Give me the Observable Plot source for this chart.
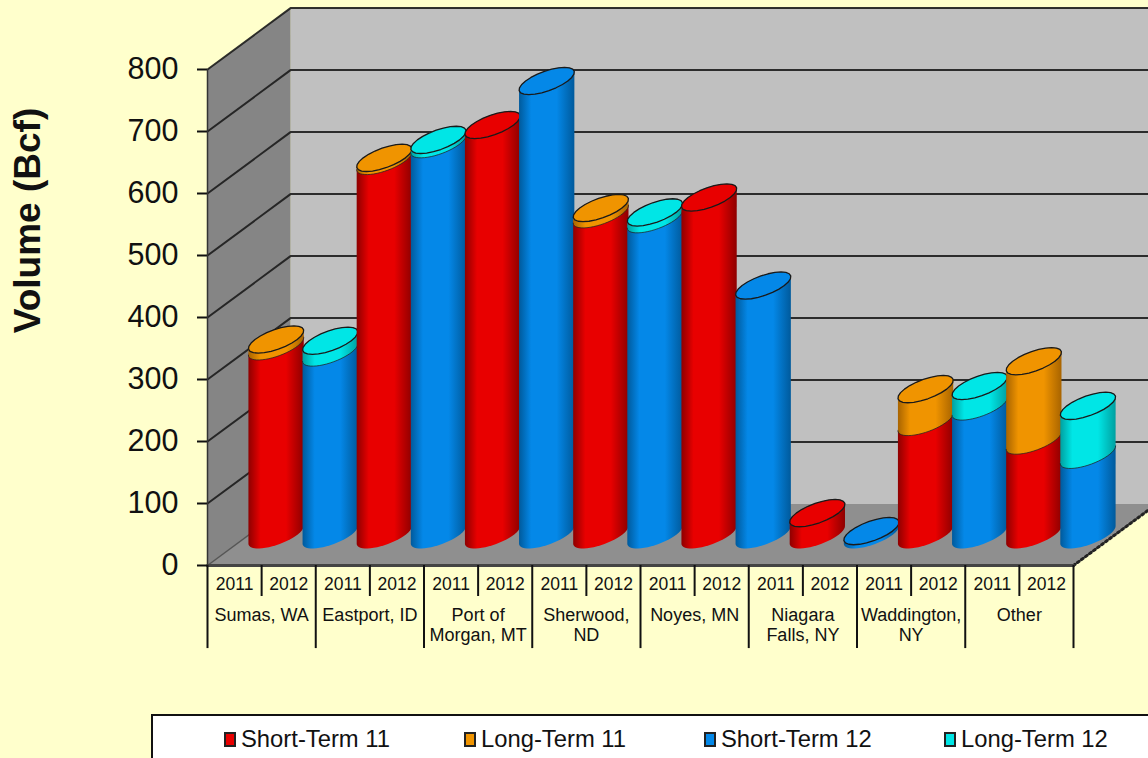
<!DOCTYPE html>
<html>
<head>
<meta charset="utf-8">
<script src="https://cdn.jsdelivr.net/npm/d3@7"></script>
<script src="https://cdn.jsdelivr.net/npm/@observablehq/plot@0.6"></script>
<style>
html,body{margin:0;padding:0;width:1148px;height:758px;overflow:hidden;background:#FFFFCC;font-family:"Liberation Sans",Arial,sans-serif}
svg{display:block}
#legend{position:absolute;left:151px;top:714px;width:1100px;height:70px;background:#fff;border:2px solid #111;box-sizing:border-box;padding-left:71px;padding-top:10px;display:flex;color:#111;font-size:23.8px}
#legend .entry{width:240px;display:flex;align-items:center;height:26px}
#legend .sw{width:8px;height:11px;border:2px solid #222;margin-right:5px;display:inline-block}
</style>
</head>
<body>
<script>
const categories = ["Sumas, WA","Eastport, ID","Port of\nMorgan, MT","Sherwood,\nND","Noyes, MN","Niagara\nFalls, NY","Waddington,\nNY","Other"];
const years = ["2011","2012"];
const shortTerm11 = [304,603,661,517,544,35,182,152];
const longTerm11  = [11,5,0,10,0,0,53,128];
const shortTerm12 = [294,630,732,509,402,6,207,129];
const longTerm12  = [19,7,0,11,0,0,33,79];
const seriesNames = ["Short-Term 11","Long-Term 11","Short-Term 12","Long-Term 12"];
const seriesColors = ["#E80000","#F09400","#0488E8","#00E6E6"];
const yTicks = d3.range(0,801,100);

// Dark ends of each cylinder's horizontal shading, by series
const edgeColors = ["#8E0000","#A86400","#005A9C","#00A0A0"];

// Depth of the 3D box, in x-slot and value units
const depthX = 1.534, depthY = 99;
// Ellipse of a cylinder cross-section, in the same units
const A = 0.39, B = 0.33, E = 22;
const t0 = Math.atan2(B, A);
const arc = (cx, level, from, to) => d3.range(0, 25).map(i => {
  const t = from + (to - from) * i / 24;
  return {x: cx + A*Math.cos(t) + B*Math.sin(t), y: level + depthY/2 + E*Math.sin(t)};
});
const front = (cx, lv) => arc(cx, lv, Math.PI + t0, 2*Math.PI + t0);
const back = (cx, lv) => arc(cx, lv, t0, Math.PI + t0);
const ring = (cx, lv) => arc(cx, lv, 0, 2*Math.PI);

// One stack per slot
const stacks = categories.flatMap((c, i) => [
  {slot: 2*i,   low: shortTerm11[i], high: longTerm11[i], s0: 0, s1: 1},
  {slot: 2*i+1, low: shortTerm12[i], high: longTerm12[i], s0: 2, s1: 3}
]);

const XY = {x: "x", y: "y"};
const sideMark = (cx, a, b, s) => Plot.line([...front(cx, a), ...back(cx, b), front(cx, a)[0]],
  {...XY, fill: `url(#cyl${s})`, stroke: "none"});

const cylinders = stacks.flatMap(d => {
  const cx = d.slot + 0.5 + depthX / 2;
  const total = d.low + d.high;
  const marks = [sideMark(cx, 0, d.low, d.s0)];
  if (d.high > 0) {
    marks.push(sideMark(cx, d.low, total, d.s1));
    marks.push(Plot.line(front(cx, d.low), {...XY, stroke: "#222", strokeWidth: 1, strokeOpacity: 0.75}));
  }
  const topSeries = d.high > 0 ? d.s1 : d.s0;
  marks.push(Plot.line(ring(cx, total), {...XY, fill: seriesColors[topSeries], stroke: "#1a1a1a", strokeWidth: 1.3}));
  return marks;
});

const xEnd = 16 + depthX;
const wallFill = (pts, fill) => Plot.line([...pts, pts[0]], {...XY, fill, stroke: "none"});
const gridRows = yTicks.flatMap(v => [
  {v, x: 0, y: v}, {v, x: depthX, y: v + depthY}, {v, x: xEnd, y: v + depthY}
]);
const yearSlots = d3.range(0, 16);
const yearRows = yearSlots.map(s => ({s: s + 0.5, label: years[s % 2]}));
const catRows = categories.map((c, i) => ({s: 2*i + 1, label: c}));

const chart = Plot.plot({
  width: 1148, height: 714,
  marginLeft: 207, marginRight: 75, marginTop: 69, marginBottom: 149,
  style: {background: "#FFFFCC", fontFamily: "'Liberation Sans', Arial, sans-serif", color: "#111", overflow: "hidden"},
  x: {type: "linear", domain: [0, 16], axis: null},
  y: {type: "linear", domain: [0, 800], axis: null},
  marks: [
    () => {
      const defs = d3.create("svg:defs");
      seriesColors.forEach((c, i) => {
        const g = defs.append("linearGradient").attr("id", `cyl${i}`).attr("x1", 0).attr("x2", 1).attr("y1", 0).attr("y2", 0);
        [[0, edgeColors[i]], [0.22, c], [0.68, c], [1, edgeColors[i]]].forEach(([o, col]) =>
          g.append("stop").attr("offset", o).attr("stop-color", col));
      });
      return defs.node();
    },
    wallFill([{x: depthX, y: depthY}, {x: xEnd, y: depthY}, {x: xEnd, y: 800 + depthY}, {x: depthX, y: 800 + depthY}], "#C0C0C0"),
    wallFill([{x: 0, y: 0}, {x: depthX, y: depthY}, {x: depthX, y: 800 + depthY}, {x: 0, y: 800}], "#858585"),
    wallFill([{x: 0, y: 0}, {x: 16, y: 0}, {x: xEnd, y: depthY}, {x: depthX, y: depthY}], "#8F8F8F"),
    Plot.line(gridRows.filter(d => d.v > 0), {...XY, z: "v", stroke: "#1c1c1c", strokeWidth: 2, strokeOpacity: 0.9}),
    Plot.line([{x: 0, y: 0}, {x: depthX, y: depthY}], {...XY, stroke: "#555", strokeWidth: 1.5}),
    Plot.line([{x: 16, y: 0}, {x: xEnd, y: depthY}], {...XY, stroke: "#222", strokeWidth: 3, strokeDasharray: "2 3"}),
    Plot.line([{x: 0, y: 0}, {x: 16, y: 0}], {...XY, stroke: "#444", strokeWidth: 3}),
    ...cylinders,
    Plot.axisY({ticks: yTicks, tickSize: 10, tickPadding: 19, fontSize: 30.5, strokeWidth: 2, label: null, stroke: "#111"}),
    Plot.ruleX([0], {y1: 0, y2: 800, stroke: "#333", strokeWidth: 1.5}),
    Plot.ruleX(d3.range(0, 17, 2), {y1: 0, y2: -134, stroke: "#111", strokeWidth: 2}),
    Plot.ruleX(d3.range(1, 16, 2), {y1: 0, y2: -50, stroke: "#111", strokeWidth: 2}),
    Plot.text(yearRows, {x: "s", text: "label", frameAnchor: "bottom", lineAnchor: "middle", dy: 19, fontSize: 17.5, fill: "#111"}),
    Plot.text(catRows, {x: "s", text: "label", frameAnchor: "bottom", dy: 41, lineAnchor: "top", lineHeight: 1.12, fontSize: 18, fill: "#111"}),
    Plot.text(["Volume (Bcf)"], {frameAnchor: "left", textAnchor: "middle", dx: -179, dy: -97, rotate: -90, fontSize: 37, fontWeight: "bold", fill: "#111"})
  ]
});
document.body.append(chart);

const legend = d3.select("body").append("div").attr("id", "legend");
seriesNames.forEach((n, i) => {
  const e = legend.append("div").attr("class", "entry");
  e.append("span").attr("class", "sw").style("background", seriesColors[i]);
  e.append("span").text(n);
});
</script>
</body>
</html>
